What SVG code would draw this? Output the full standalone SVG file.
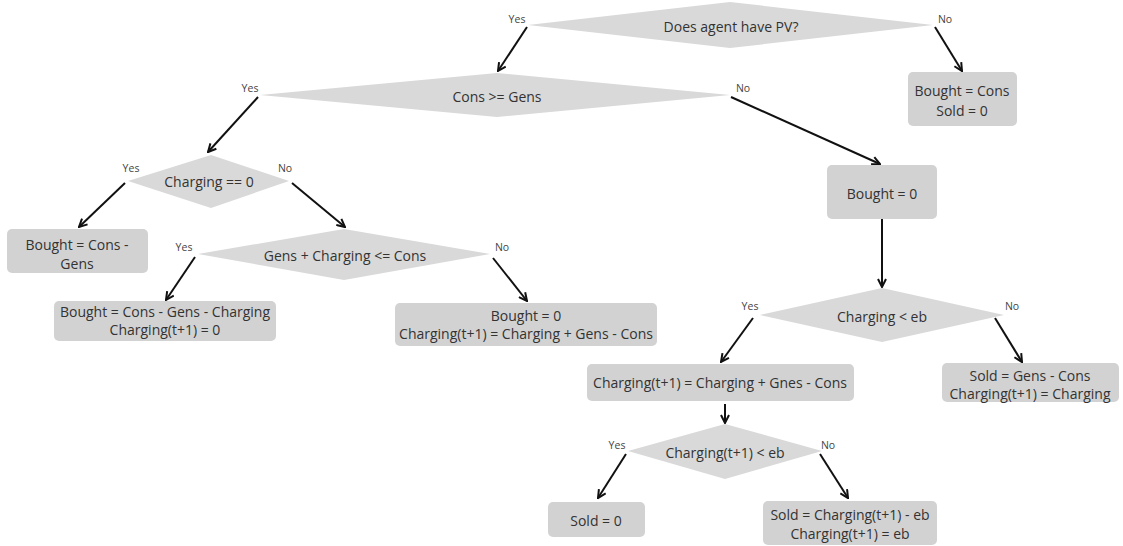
<svg xmlns="http://www.w3.org/2000/svg" width="1123" height="546" viewBox="0 0 1123 546">
<defs>
<style>
.dia{fill:#d9d9d9;}
.box{fill:#d2d2d2;}
.t{font-family:"Open Sans","Liberation Sans",sans-serif;font-size:14px;fill:#333;text-anchor:middle;dominant-baseline:central;}
.l{font-family:"Open Sans","Liberation Sans",sans-serif;font-size:10.5px;fill:#444;text-anchor:middle;dominant-baseline:central;}
.c{stroke:#111;stroke-width:2;fill:none;marker-end:url(#ah);}
</style>
<marker id="ah" viewBox="0 0 10 10" refX="9" refY="5" markerWidth="10" markerHeight="10" markerUnits="userSpaceOnUse" orient="auto">
<path d="M1,1 L9,5 L1,9" fill="none" stroke="#111" stroke-width="2"/>
</marker>
</defs>
<rect width="1123" height="546" fill="#fff"/>

<g id="connectors">
<line class="c" x1="527" y1="27" x2="498" y2="71"/>
<line class="c" x1="935" y1="27" x2="962" y2="71"/>
<line class="c" x1="258" y1="97" x2="208" y2="152"/>
<line class="c" x1="731" y1="97" x2="880" y2="164"/>
<line class="c" x1="125" y1="183" x2="79" y2="227"/>
<line class="c" x1="292" y1="183" x2="345" y2="227"/>
<line class="c" x1="195" y1="257" x2="166" y2="300"/>
<line class="c" x1="493" y1="258" x2="527" y2="301"/>
<line class="c" x1="882" y1="219" x2="882" y2="287"/>
<line class="c" x1="753" y1="318" x2="721" y2="362"/>
<line class="c" x1="995" y1="318" x2="1022" y2="362"/>
<line class="c" x1="725" y1="404" x2="725" y2="423"/>
<line class="c" x1="626" y1="454" x2="598" y2="498"/>
<line class="c" x1="820" y1="454" x2="848" y2="498"/>
</g>

<g id="q-pv">
<polygon class="dia" points="528,25 730,2 933,25 730,48"/>
<text class="t" x="731" y="26">Does agent have PV?</text>
<text class="l" x="517" y="19">Yes</text>
<text class="l" x="945" y="19">No</text>
</g>

<g id="r-nopv">
<rect class="box" x="908" y="72" width="109" height="54" rx="5"/>
<text class="t" x="962" y="90">Bought = Cons</text>
<text class="t" x="962" y="110">Sold = 0</text>
</g>

<g id="q-cons">
<polygon class="dia" points="260,95 497,73 730,95 497,117"/>
<text class="t" x="497" y="96">Cons &gt;= Gens</text>
<text class="l" x="250" y="88">Yes</text>
<text class="l" x="743" y="88">No</text>
</g>

<g id="q-charging0">
<polygon class="dia" points="128,181 211,155 289,181 211,208"/>
<text class="t" x="209" y="181">Charging == 0</text>
<text class="l" x="131" y="168">Yes</text>
<text class="l" x="285" y="168">No</text>
</g>

<g id="r-bought-cons-gens">
<rect class="box" x="7" y="229" width="141" height="44" rx="5"/>
<text class="t" x="77" y="244">Bought = Cons -</text>
<text class="t" x="77" y="263">Gens</text>
</g>

<g id="q-gens-charging">
<polygon class="dia" points="198,254 344,229 490,254 344,280"/>
<text class="t" x="345" y="255">Gens + Charging &lt;= Cons</text>
<text class="l" x="184" y="247">Yes</text>
<text class="l" x="502" y="247">No</text>
</g>

<g id="r-bought-ccg">
<rect class="box" x="54" y="301" width="222" height="40" rx="5"/>
<text class="t" x="165" y="311">Bought = Cons - Gens - Charging</text>
<text class="t" x="165" y="329">Charging(t+1) = 0</text>
</g>

<g id="r-bought0-left">
<rect class="box" x="395" y="303" width="262" height="43" rx="5"/>
<text class="t" x="526" y="315">Bought = 0</text>
<text class="t" x="526" y="333">Charging(t+1) = Charging + Gens - Cons</text>
</g>

<g id="r-bought0-right">
<rect class="box" x="827" y="165" width="110" height="54" rx="5"/>
<text class="t" x="882" y="193">Bought = 0</text>
</g>

<g id="q-charging-eb">
<polygon class="dia" points="760,315 882,288 1004,315 882,342"/>
<text class="t" x="882" y="316">Charging &lt; eb</text>
<text class="l" x="750" y="306">Yes</text>
<text class="l" x="1012" y="306">No</text>
</g>

<g id="r-charging-next">
<rect class="box" x="587" y="364" width="267" height="37" rx="5"/>
<text class="t" x="720" y="382">Charging(t+1) = Charging + Gnes - Cons</text>
</g>

<g id="r-sold-gens">
<rect class="box" x="942" y="363" width="177" height="39" rx="5"/>
<text class="t" x="1030" y="375">Sold = Gens - Cons</text>
<text class="t" x="1030" y="393">Charging(t+1) = Charging</text>
</g>

<g id="q-charging-next-eb">
<polygon class="dia" points="628,451 725,424 822,451 725,479"/>
<text class="t" x="725" y="452">Charging(t+1) &lt; eb</text>
<text class="l" x="617" y="445">Yes</text>
<text class="l" x="828" y="445">No</text>
</g>

<g id="r-sold0">
<rect class="box" x="548" y="502" width="97" height="35" rx="5"/>
<text class="t" x="596" y="520">Sold = 0</text>
</g>

<g id="r-sold-excess">
<rect class="box" x="763" y="501" width="174" height="44" rx="5"/>
<text class="t" x="850" y="514">Sold = Charging(t+1) - eb</text>
<text class="t" x="850" y="533">Charging(t+1) = eb</text>
</g>
</svg>
